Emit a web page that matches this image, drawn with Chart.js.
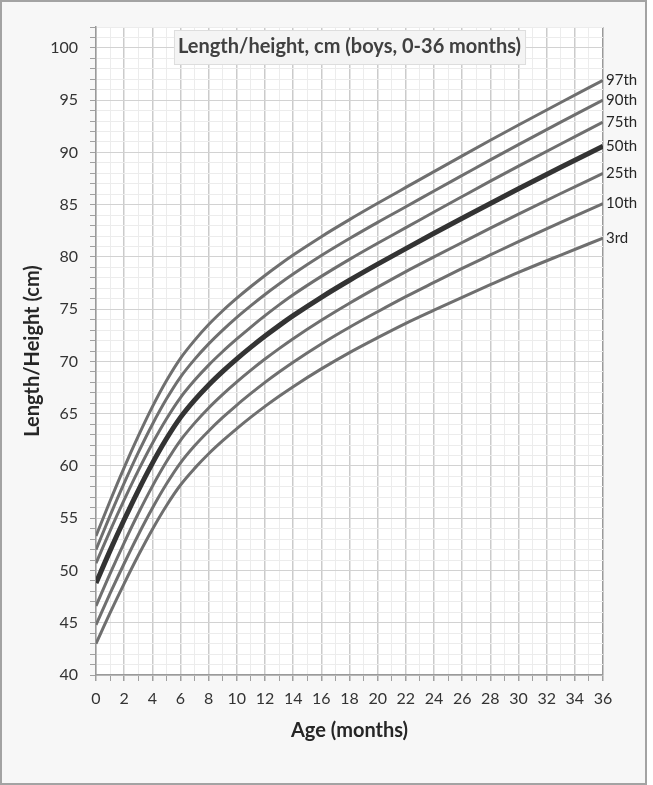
<!DOCTYPE html>
<html>
<head>
<meta charset="utf-8">
<script src="https://cdn.jsdelivr.net/npm/chart.js@4"></script>
<style>
  body { margin: 0; background: #fff; }
  #wrap { width: 647px; height: 785px; box-sizing: border-box; border: 2px solid #a3a3a3; background: #f7f7f7; }
  canvas { display: block; }
</style>
</head>
<body>
<div id="wrap"><canvas id="growthChart" width="643" height="781"></canvas></div>
<script>
// Ages (months) and percentile curves (cm)
const ages = [0, 1, 2, 3, 4, 5, 6, 7, 8, 9, 10, 11, 12, 13, 14, 16, 18, 20, 22, 24, 26, 28, 30, 33, 36]
const p97 = [53.3, 56.65, 59.85, 62.85, 65.65, 68.15, 70.3, 72.02, 73.53, 74.85, 76.05, 77.17, 78.23, 79.23, 80.18, 81.94, 83.57, 85.13, 86.65, 88.16, 89.67, 91.16, 92.62, 94.78, 96.9]
const p90 = [52.0, 55.25, 58.35, 61.27, 63.97, 66.4, 68.51, 70.2, 71.68, 73.0, 74.22, 75.34, 76.41, 77.41, 78.36, 80.13, 81.76, 83.31, 84.8, 86.31, 87.8, 89.29, 90.75, 92.9, 95.0]
const p75 = [50.7, 53.8, 56.75, 59.55, 62.15, 64.5, 66.55, 68.2, 69.65, 70.95, 72.15, 73.29, 74.38, 75.41, 76.38, 78.14, 79.77, 81.31, 82.8, 84.3, 85.78, 87.25, 88.69, 90.81, 92.9]
const p50 = [48.8, 51.9, 54.85, 57.65, 60.25, 62.6, 64.65, 66.3, 67.75, 69.05, 70.25, 71.37, 72.43, 73.43, 74.38, 76.14, 77.77, 79.31, 80.8, 82.26, 83.7, 85.12, 86.52, 88.58, 90.6]
const p25 = [46.6, 49.7, 52.65, 55.45, 58.05, 60.4, 62.45, 64.1, 65.55, 66.85, 68.05, 69.17, 70.23, 71.23, 72.18, 73.94, 75.57, 77.11, 78.6, 80.0, 81.38, 82.75, 84.09, 86.07, 88.0]
const p10 = [44.8, 47.8, 50.67, 53.4, 55.95, 58.27, 60.3, 61.93, 63.35, 64.64, 65.83, 66.94, 68.0, 68.99, 69.93, 71.67, 73.27, 74.76, 76.2, 77.56, 78.9, 80.19, 81.47, 83.31, 85.1]
const p3 = [43.0, 45.95, 48.75, 51.43, 53.93, 56.2, 58.18, 59.77, 61.17, 62.42, 63.58, 64.67, 65.7, 66.67, 67.59, 69.29, 70.85, 72.28, 73.65, 74.91, 76.14, 77.34, 78.52, 80.18, 81.8]

const seriesLabels = ['97th', '90th', '75th', '50th', '25th', '10th', '3rd']
const seriesValues = [p97, p90, p75, p50, p25, p10, p3]
const chartTitle = 'Length/height, cm (boys, 0-36 months)'

const FONT = 'Lato'

const datasets = seriesValues.map((values, i) => {
  const median = seriesLabels[i] === '50th'
  return {
    label: seriesLabels[i],
    data: ages.map((a, j) => ({ x: a, y: values[j] })),
    borderColor: median ? '#333333' : '#6f6f6f',
    borderWidth: median ? 5 : 3,
    pointRadius: 0,
    cubicInterpolationMode: 'monotone',
    order: median ? 0 : 1,
    fill: false
  }
})

// white plot area
const plotBackground = {
  id: 'plotBackground',
  beforeDraw(chart) {
    const { ctx, chartArea: a } = chart
    ctx.save()
    ctx.fillStyle = '#ffffff'
    ctx.fillRect(a.left, a.top, a.right - a.left, a.bottom - a.top)
    ctx.restore()
  }
}

// percentile names at the end of each curve
const endLabels = {
  id: 'endLabels',
  afterDatasetsDraw(chart) {
    const { ctx } = chart
    ctx.save()
    ctx.font = '15px ' + FONT
    ctx.fillStyle = '#262626'
    ctx.textAlign = 'left'
    ctx.textBaseline = 'middle'
    chart.data.datasets.forEach((ds, i) => {
      const pts = chart.getDatasetMeta(i).data
      const last = pts[pts.length - 1]
      ctx.fillText(ds.label, last.x + 3, last.y)
    })
    ctx.restore()
  }
}

// title box inside the plot area
const boxTitle = {
  id: 'boxTitle',
  afterDraw(chart) {
    const { ctx, chartArea: a } = chart
    const cx = (a.left + a.right) / 2
    ctx.save()
    ctx.font = 'bold 20px ' + FONT
    const w = ctx.measureText(chartTitle).width + 8
    ctx.fillStyle = '#f4f4f4'
    ctx.fillRect(cx - w / 2, a.top + 3, w, 34)
    ctx.strokeStyle = '#dddddd'
    ctx.lineWidth = 1
    ctx.strokeRect(cx - w / 2 + 0.5, a.top + 3.5, w, 34)
    ctx.fillStyle = '#404040'
    ctx.textAlign = 'center'
    ctx.textBaseline = 'middle'
    ctx.fillText(chartTitle, cx, a.top + 20)
    ctx.restore()
  }
}

const ctx = document.getElementById('growthChart').getContext('2d')
new Chart(ctx, {
  type: 'line',
  data: { datasets },
  plugins: [plotBackground, endLabels, boxTitle],
  options: {
    responsive: false,
    animation: false,
    layout: { padding: { left: 0, top: 25, right: 42, bottom: 0 } },
    plugins: {
      legend: { display: false },
      tooltip: { enabled: false }
    },
    scales: {
      x: {
        type: 'linear',
        min: 0,
        max: 36,
        afterFit(scale) { scale.height = 108 },
        ticks: {
          stepSize: 1,
          autoSkip: false,
          maxRotation: 0,
          padding: 8,
          color: '#333333',
          font: { family: FONT, size: 16 },
          callback: v => (v % 2 === 0 ? String(v) : '')
        },
        grid: {
          color: c => (c.tick.value === 36 ? '#9a9a9a' : c.tick.value % 2 === 0 ? '#cbcbcb' : '#ececec'),
          lineWidth: c => (c.tick.value % 2 === 0 ? 1.5 : 1),
          tickLength: 6,
          tickColor: '#a0a0a0'
        },
        border: { color: '#9a9a9a', width: 1.5 },
        title: {
          display: true,
          text: 'Age (months)',
          color: '#262626',
          font: { family: FONT, size: 20, weight: 'bold' },
          padding: { top: 40, bottom: 40 }
        }
      },
      y: {
        min: 40,
        max: 102,
        afterFit(scale) { scale.width = 94 },
        ticks: {
          stepSize: 1,
          autoSkip: false,
          padding: 12,
          color: '#333333',
          font: { family: FONT, size: 16 },
          callback: v => (v % 5 === 0 && v <= 100 ? String(v) : '')
        },
        grid: {
          color: c => (c.tick.value % 5 === 0 ? '#d2d2d2' : '#ececec'),
          lineWidth: 1,
          tickLength: 6,
          tickColor: '#a0a0a0'
        },
        border: { color: '#9a9a9a', width: 1.5 },
        title: {
          display: true,
          text: 'Length/Height (cm)',
          color: '#262626',
          font: { family: FONT, size: 20, weight: 'bold' },
          padding: { top: 19, bottom: 19 }
        }
      }
    }
  }
})
</script>
</body>
</html>
